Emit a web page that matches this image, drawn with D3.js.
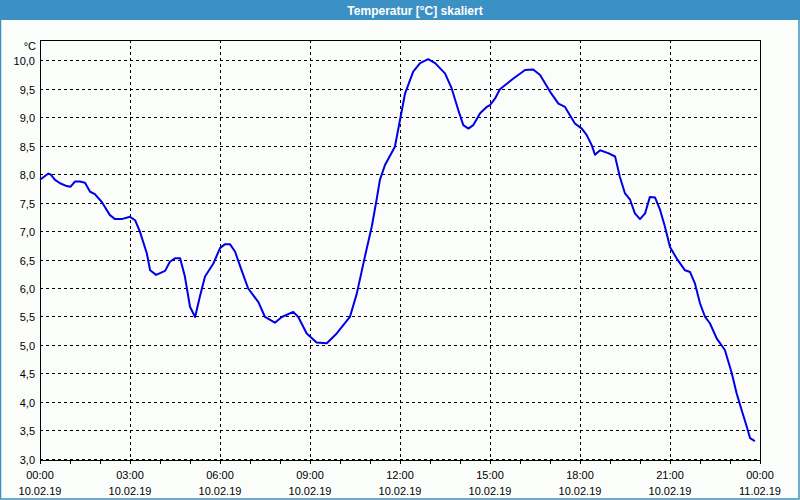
<!DOCTYPE html>
<html><head><meta charset="utf-8">
<script src="https://cdn.jsdelivr.net/npm/d3@7/dist/d3.min.js"></script>
<style>
html,body{margin:0;padding:0;background:#fbfdfb;}
svg{display:block;}
text{font-family:"Liberation Sans",Arial,sans-serif;font-size:11px;fill:#000;}
</style></head>
<body>
<svg id="chart" width="800" height="500"></svg>
<script>
const title = "Temperatur [°C] skaliert";
const unitLabel = "°C";
const hours = [0,0.28,0.36,0.5,0.67,0.89,1.02,1.17,1.33,1.5,1.67,1.83,2.06,2.33,2.5,2.72,3.0,3.17,3.33,3.56,3.67,3.87,4.17,4.33,4.5,4.67,4.83,5.0,5.17,5.33,5.5,5.78,6.0,6.17,6.33,6.5,6.72,6.94,7.28,7.5,7.83,8.06,8.44,8.61,8.89,9.22,9.56,9.89,10.33,10.56,10.83,11.06,11.22,11.33,11.5,11.83,12.0,12.17,12.44,12.67,12.94,13.17,13.5,13.72,13.94,14.11,14.28,14.44,14.67,14.89,15.0,15.17,15.33,15.78,16.17,16.44,16.67,16.83,17.0,17.28,17.5,17.83,18.06,18.22,18.39,18.5,18.67,18.94,19.17,19.33,19.5,19.67,19.83,20.0,20.17,20.33,20.5,20.67,20.83,21.0,21.22,21.5,21.67,21.83,22.0,22.17,22.33,22.56,22.83,23.06,23.22,23.39,23.56,23.67,23.83];
const temps = [7.90,8.01,7.99,7.90,7.84,7.79,7.78,7.87,7.87,7.85,7.69,7.65,7.51,7.28,7.21,7.21,7.25,7.19,6.99,6.61,6.31,6.23,6.30,6.46,6.52,6.52,6.20,5.67,5.49,5.85,6.20,6.43,6.70,6.77,6.77,6.64,6.31,5.99,5.75,5.49,5.39,5.49,5.58,5.49,5.20,5.04,5.03,5.20,5.49,5.90,6.55,7.08,7.55,7.90,8.16,8.48,8.95,9.42,9.80,9.95,10.02,9.95,9.77,9.51,9.13,8.86,8.80,8.86,9.07,9.18,9.21,9.33,9.49,9.68,9.83,9.84,9.74,9.60,9.45,9.24,9.18,8.89,8.80,8.69,8.51,8.34,8.42,8.37,8.31,7.95,7.66,7.55,7.31,7.21,7.31,7.60,7.59,7.37,7.08,6.72,6.52,6.31,6.28,6.08,5.73,5.49,5.38,5.11,4.91,4.50,4.15,3.85,3.56,3.36,3.31];
const yTicks = [3.0,3.5,4.0,4.5,5.0,5.5,6.0,6.5,7.0,7.5,8.0,8.5,9.0,9.5,10.0];
const xMajorHours = [0,3,6,9,12,15,18,21,24];
const xTimeLabels = ["00:00","03:00","06:00","09:00","12:00","15:00","18:00","21:00","00:00"];
const xDateLabels = ["10.02.19","10.02.19","10.02.19","10.02.19","10.02.19","10.02.19","10.02.19","10.02.19","11.02.19"];
const xMinorHours = d3.range(0,25,1);

const svg = d3.select("#chart");
const L=40, R=760, T=40, B=460;
const x = d3.scaleLinear().domain([0,24]).range([L,R]);
const y = d3.scaleLinear().domain([3,10]).range([458.7,60.3]);

// window frame + title bar
svg.append("rect").attr("x",0.5).attr("y",0.5).attr("width",798.5).attr("height",498.5)
  .attr("fill","#fbfdfb").attr("stroke","#3c91c4").attr("stroke-width",1.5);
svg.append("rect").attr("x",0).attr("y",0).attr("width",800).attr("height",20).attr("fill","#3c91c4");
svg.append("text").attr("x",415).attr("y",14.5).attr("text-anchor","middle")
  .style("font-weight","bold").style("fill","#fff").style("font-size","12px").text(title);

const px = v => Math.round(v)+0.5;

// horizontal grid
svg.append("g").selectAll("line").data(yTicks).join("line")
  .attr("x1",L).attr("x2",R).attr("y1",d=>px(y(d))).attr("y2",d=>px(y(d)))
  .attr("stroke","#000").attr("stroke-dasharray","3,3").attr("shape-rendering","crispEdges");
// vertical grid
svg.append("g").selectAll("line").data(xMajorHours.slice(1,-1)).join("line")
  .attr("x1",d=>px(x(d))).attr("x2",d=>px(x(d))).attr("y1",T).attr("y2",B)
  .attr("stroke","#000").attr("stroke-dasharray","3,3").attr("shape-rendering","crispEdges");

// frame
svg.append("rect").attr("x",L+0.5).attr("y",T+0.5).attr("width",R-L).attr("height",B-T)
  .attr("fill","none").attr("stroke","#000").attr("shape-rendering","crispEdges");

// minor ticks
svg.append("g").selectAll("line").data(xMinorHours).join("line")
  .attr("x1",d=>px(x(d))).attr("x2",d=>px(x(d))).attr("y1",B).attr("y2",B+4)
  .attr("stroke","#000").attr("shape-rendering","crispEdges");

// y labels
svg.append("g").selectAll("text").data(yTicks).join("text")
  .attr("x",35).attr("y",d=>y(d)+5).attr("text-anchor","end")
  .text(d=>d3.format(".1f")(d).replace(".",","));
svg.append("text").attr("x",36).attr("y",50).attr("text-anchor","end").text(unitLabel);

// x labels
const xl = svg.append("g").selectAll("g").data(xMajorHours).join("g");
xl.append("text").attr("x",d=>x(d)).attr("y",479).attr("text-anchor","middle").text((d,i)=>xTimeLabels[i]);
xl.append("text").attr("x",d=>x(d)).attr("y",495).attr("text-anchor","middle").text((d,i)=>xDateLabels[i]);

// data line
const data = hours.map((h,i)=>({h, v:temps[i]}));
svg.append("path").datum(data)
  .attr("d", d3.line().x(d=>x(d.h)).y(d=>y(d.v)))
  .attr("fill","none").attr("stroke","#0000e6").attr("stroke-width",2).attr("stroke-linejoin","round");
</script>
</body></html>
